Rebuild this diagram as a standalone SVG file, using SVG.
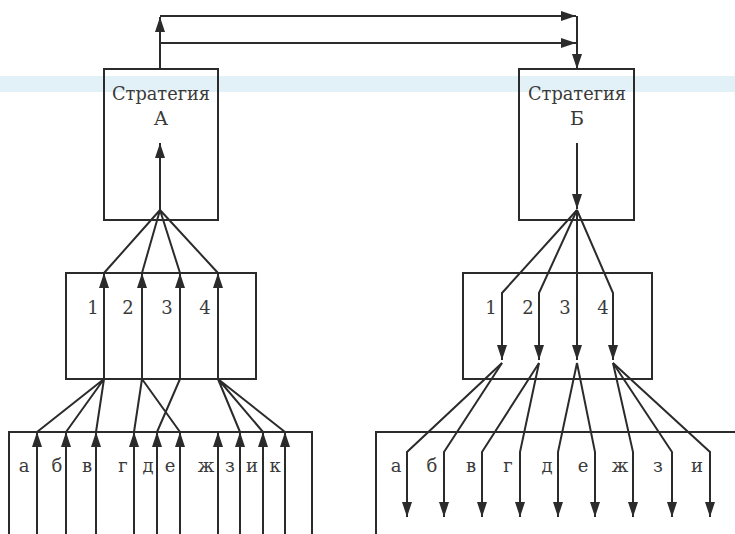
<svg xmlns="http://www.w3.org/2000/svg" width="735" height="534" viewBox="0 0 735 534">
<style>
.box{fill:none;stroke:#2b2b2b;stroke-width:2}
.ln{fill:none;stroke:#2b2b2b;stroke-width:2}
.ar{marker-end:url(#ah)}
text{font-family:"DejaVu Serif","Liberation Serif",serif;font-size:18px;fill:#3a3a3a;text-anchor:middle}
.t{font-size:19px}
.wm{fill:#e2f0f8}
</style>
<defs>
<marker id="ah" viewBox="0 0 15 10" refX="15" refY="5" markerWidth="15" markerHeight="10" markerUnits="userSpaceOnUse" orient="auto">
<path d="M0,0 L15,5 L0,10 z" fill="#2b2b2b"/>
</marker>
</defs>
<rect width="735" height="534" fill="#ffffff"/>
<g id="watermark">
<rect class="wm" x="0" y="76" width="735" height="16"/>
</g>
<g id="connectors">
<path class="ln ar" d="M160,69 V17"/>
<path class="ln ar" d="M160,16 H576"/>
<path class="ln ar" d="M160,43 H576"/>
<path class="ln ar" d="M577,16 V69"/>
<path class="ln ar" d="M160,210 V143"/>
<path class="ln" d="M160,210 L104,273 M160,210 L142,273 M160,210 L180,273 M160,210 L218,273"/>
<path class="ln ar" d="M104,379 V273"/>
<path class="ln ar" d="M142,379 V273"/>
<path class="ln ar" d="M180,379 V273"/>
<path class="ln ar" d="M218,379 V273"/>
<path class="ln" d="M104,379 L37,432 M104,379 L66,432 M104,379 L96,432 M142,379 L134,432 M142,379 L180,432 M180,379 L157,432 M218,379 L240,432 M218,379 L263,432 M218,379 L285,432"/>
<path class="ln ar" d="M37,534 V432"/>
<path class="ln ar" d="M66,534 V432"/>
<path class="ln ar" d="M96,534 V432"/>
<path class="ln ar" d="M134,534 V432"/>
<path class="ln ar" d="M157,534 V432"/>
<path class="ln ar" d="M180,534 V432"/>
<path class="ln ar" d="M218,534 V432"/>
<path class="ln ar" d="M240,534 V432"/>
<path class="ln ar" d="M263,534 V432"/>
<path class="ln ar" d="M285,534 V432"/>
<path class="ln ar" d="M577,143 V209"/>
<path class="ln ar" d="M577,210 L502,293 V360"/>
<path class="ln ar" d="M577,210 L539,293 V360"/>
<path class="ln ar" d="M577,210 V360"/>
<path class="ln ar" d="M577,210 L613,293 V360"/>
<path class="ln ar" d="M502,363 L407,452 V517"/>
<path class="ln ar" d="M502,363 L444,452 V517"/>
<path class="ln ar" d="M539,363 L482,452 V517"/>
<path class="ln ar" d="M539,363 L520,452 V517"/>
<path class="ln ar" d="M577,363 L558,452 V517"/>
<path class="ln ar" d="M577,363 L595,452 V517"/>
<path class="ln ar" d="M613,363 L633,452 V517"/>
<path class="ln ar" d="M613,363 L672,452 V517"/>
<path class="ln ar" d="M613,363 L710,452 V517"/>
</g>
<g id="strategyA">
<rect class="box" x="104" y="69" width="114" height="151"/>
<text class="t" x="161" y="100" textLength="98" lengthAdjust="spacingAndGlyphs">Стратегия</text>
<text class="t" x="161" y="125">А</text>
</g>
<g id="strategyB">
<rect class="box" x="519" y="69" width="115" height="151"/>
<text class="t" x="577" y="100" textLength="98" lengthAdjust="spacingAndGlyphs">Стратегия</text>
<text class="t" x="577" y="125">Б</text>
</g>
<g id="numbersA">
<rect class="box" x="66" y="273" width="190" height="106"/>
<text x="93" y="314">1</text>
<text x="128" y="314">2</text>
<text x="167" y="314">3</text>
<text x="205" y="314">4</text>
</g>
<g id="numbersB">
<rect class="box" x="463" y="273" width="189" height="106"/>
<text x="491" y="314">1</text>
<text x="528" y="314">2</text>
<text x="565" y="314">3</text>
<text x="603" y="314">4</text>
</g>
<g id="lettersA">
<rect class="box" x="9" y="432" width="303" height="130"/>
<text x="24" y="472">а</text>
<text x="57" y="472">б</text>
<text x="87" y="472">в</text>
<text x="123" y="472">г</text>
<text x="148" y="472">д</text>
<text x="170" y="472">е</text>
<text x="206" y="472">ж</text>
<text x="230" y="472">з</text>
<text x="252" y="472">и</text>
<text x="275" y="472">к</text>
</g>
<g id="lettersB">
<rect class="box" x="376" y="432" width="380" height="130"/>
<text x="396" y="472">а</text>
<text x="432" y="472">б</text>
<text x="471" y="472">в</text>
<text x="508" y="472">г</text>
<text x="547" y="472">д</text>
<text x="583" y="472">е</text>
<text x="620" y="472">ж</text>
<text x="658" y="472">з</text>
<text x="697" y="472">и</text>
</g>
</svg>
